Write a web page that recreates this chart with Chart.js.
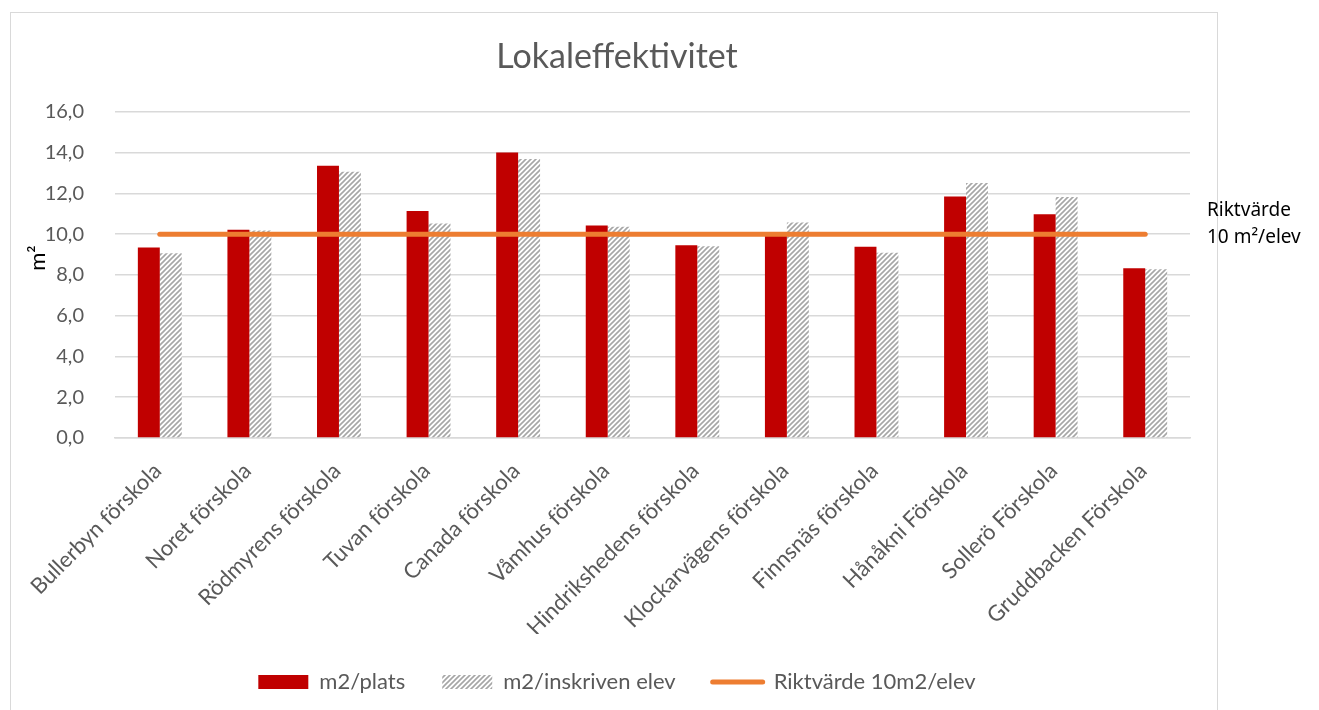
<!DOCTYPE html>
<html>
<head>
<meta charset="utf-8">
<script src="https://cdn.jsdelivr.net/npm/chart.js@4.4.1/dist/chart.umd.min.js"></script>
<style>
    html, body { margin: 0; padding: 0; background: #fff; overflow: hidden; }
    #wrap { position: relative; width: 1319px; height: 710px; }
    #frame { position: absolute; left: 10px; top: 12px; width: 1208px; height: 720px;
             border: 1px solid #D9D9D9; box-sizing: border-box; }
    #chart { position: absolute; left: 0; top: 0; }
</style>
</head>
<body>
<div id="wrap">
    <div id="frame"></div>
    <canvas id="chart" width="1319" height="710"></canvas>
</div>
<script>
// values
const categories = [
    'Bullerbyn förskola', 'Noret förskola', 'Rödmyrens förskola', 'Tuvan förskola',
    'Canada förskola', 'Våmhus förskola', 'Hindrikshedens förskola', 'Klockarvägens förskola',
    'Finnsnäs förskola', 'Hånåkni Förskola', 'Sollerö Förskola', 'Gruddbacken Förskola'
];
const m2PerPlats = [9.35, 10.21, 13.35, 11.14, 14.0, 10.42, 9.45, 10.0, 9.38, 11.84, 10.98, 8.33];
const m2PerElev  = [9.06, 10.18, 13.06, 10.52, 13.69, 10.36, 9.40, 10.57, 9.09, 12.51, 11.82, 8.28];
const riktvarde  = [10, 10, 10, 10, 10, 10, 10, 10, 10, 10, 10, 10];
const yTicks = [0, 2, 4, 6, 8, 10, 12, 14, 16];

const GREY_TEXT = '#595959';
const FONT = 'Lato, "Liberation Sans", sans-serif';

function makeHatch() {
    const s = 5;
    const c = document.createElement('canvas');
    c.width = s; c.height = s;
    const g = c.getContext('2d');
    g.fillStyle = '#ffffff';
    g.fillRect(0, 0, s, s);
    g.strokeStyle = '#A6A6A6';
    g.lineWidth = 1.6;
    g.beginPath();
    g.moveTo(-1, s + 1); g.lineTo(s + 1, -1);
    g.moveTo(-s / 2 - 1, s / 2 + 1); g.lineTo(s / 2 + 1, -s / 2 - 1);
    g.moveTo(s / 2 - 1, s * 1.5 + 1); g.lineTo(s * 1.5 + 1, s / 2 - 1);
    g.stroke();
    return g.createPattern(c, 'repeat');
}
const hatch = makeHatch();

// y axis title and the "Riktvärde 10 m²/elev" note right of the plot
const extraText = {
    id: 'extraText',
    afterDraw(chart) {
        const ctx = chart.ctx;
        ctx.save();
        ctx.fillStyle = '#000';
        ctx.font = '19px "Noto Sans", sans-serif';
        ctx.textAlign = 'left';
        ctx.textBaseline = 'middle';
        ctx.fillText('Riktvärde', 1207, 211);
        ctx.fillText('10 m²/elev', 1207, 238);

        ctx.translate(38, 258);
        ctx.rotate(-Math.PI / 2);
        ctx.textAlign = 'center';
        ctx.font = '22px ' + FONT;
        ctx.fillText('m²', 0, 0);
        ctx.restore();
    }
};

const ctx = document.getElementById('chart').getContext('2d');
const myChart = new Chart(ctx, {
    type: 'bar',
    data: {
        labels: categories,
        datasets: [
            {
                type: 'line',
                label: 'Riktvärde 10m2/elev',
                data: riktvarde,
                borderColor: '#ED7D31',
                backgroundColor: '#ED7D31',
                borderWidth: 5,
                borderCapStyle: 'round',
                pointRadius: 0,
                order: 0
            },
            {
                label: 'm2/plats',
                data: m2PerPlats,
                backgroundColor: '#C00000',
                categoryPercentage: 0.49,
                barPercentage: 1.0,
                order: 1
            },
            {
                label: 'm2/inskriven elev',
                data: m2PerElev,
                backgroundColor: hatch,
                categoryPercentage: 0.49,
                barPercentage: 1.0,
                order: 1
            }
        ]
    },
    options: {
        responsive: false,
        animation: false,
        layout: { padding: { left: 44, right: 129, top: 0, bottom: 7 } },
        plugins: {
            title: {
                display: true,
                text: 'Lokaleffektivitet',
                color: GREY_TEXT,
                font: { family: FONT, size: 34, weight: 'normal' },
                padding: { top: 37, bottom: 34 }
            },
            legend: {
                position: 'bottom',
                labels: {
                    color: GREY_TEXT,
                    font: { family: FONT, size: 22 },
                    usePointStyle: true,
                    pointStyleWidth: 50,
                    boxHeight: 14,
                    padding: 37,
                    generateLabels: chart => {
                        const order = [1, 2, 0];
                        return order.map(i => {
                            const ds = chart.data.datasets[i];
                            const isLine = ds.type === 'line';
                            return {
                                text: ds.label,
                                datasetIndex: i,
                                fillStyle: ds.backgroundColor,
                                strokeStyle: isLine ? ds.borderColor : 'transparent',
                                lineWidth: isLine ? 5 : 0,
                                lineCap: 'round',
                                pointStyle: isLine ? 'line' : 'rect',
                                fontColor: GREY_TEXT,
                                hidden: false
                            };
                        });
                    }
                }
            },
            tooltip: { enabled: false }
        },
        scales: {
            x: {
                grid: { display: false, drawTicks: false },
                border: { display: true, color: '#D9D9D9', width: 1.5 },
                ticks: {
                    color: GREY_TEXT,
                    font: { family: FONT, size: 22 },
                    minRotation: 45,
                    maxRotation: 45,
                    autoSkip: false,
                    padding: 20,
                    labelOffset: -2
                },
                afterFit: scale => { scale.height = 196; }
            },
            y: {
                min: 0,
                max: 16,
                afterBuildTicks: scale => { scale.ticks = yTicks.map(v => ({ value: v })); },
                grid: { color: '#D9D9D9', lineWidth: 1.5, drawTicks: false },
                border: { display: false },
                ticks: {
                    color: GREY_TEXT,
                    font: { family: FONT, size: 20 },
                    padding: 31,
                    callback: v => v.toFixed(1).replace('.', ',')
                },
                afterFit: scale => { scale.width = 71; }
            }
        }
    },
    plugins: [extraText]
});
</script>
</body>
</html>
